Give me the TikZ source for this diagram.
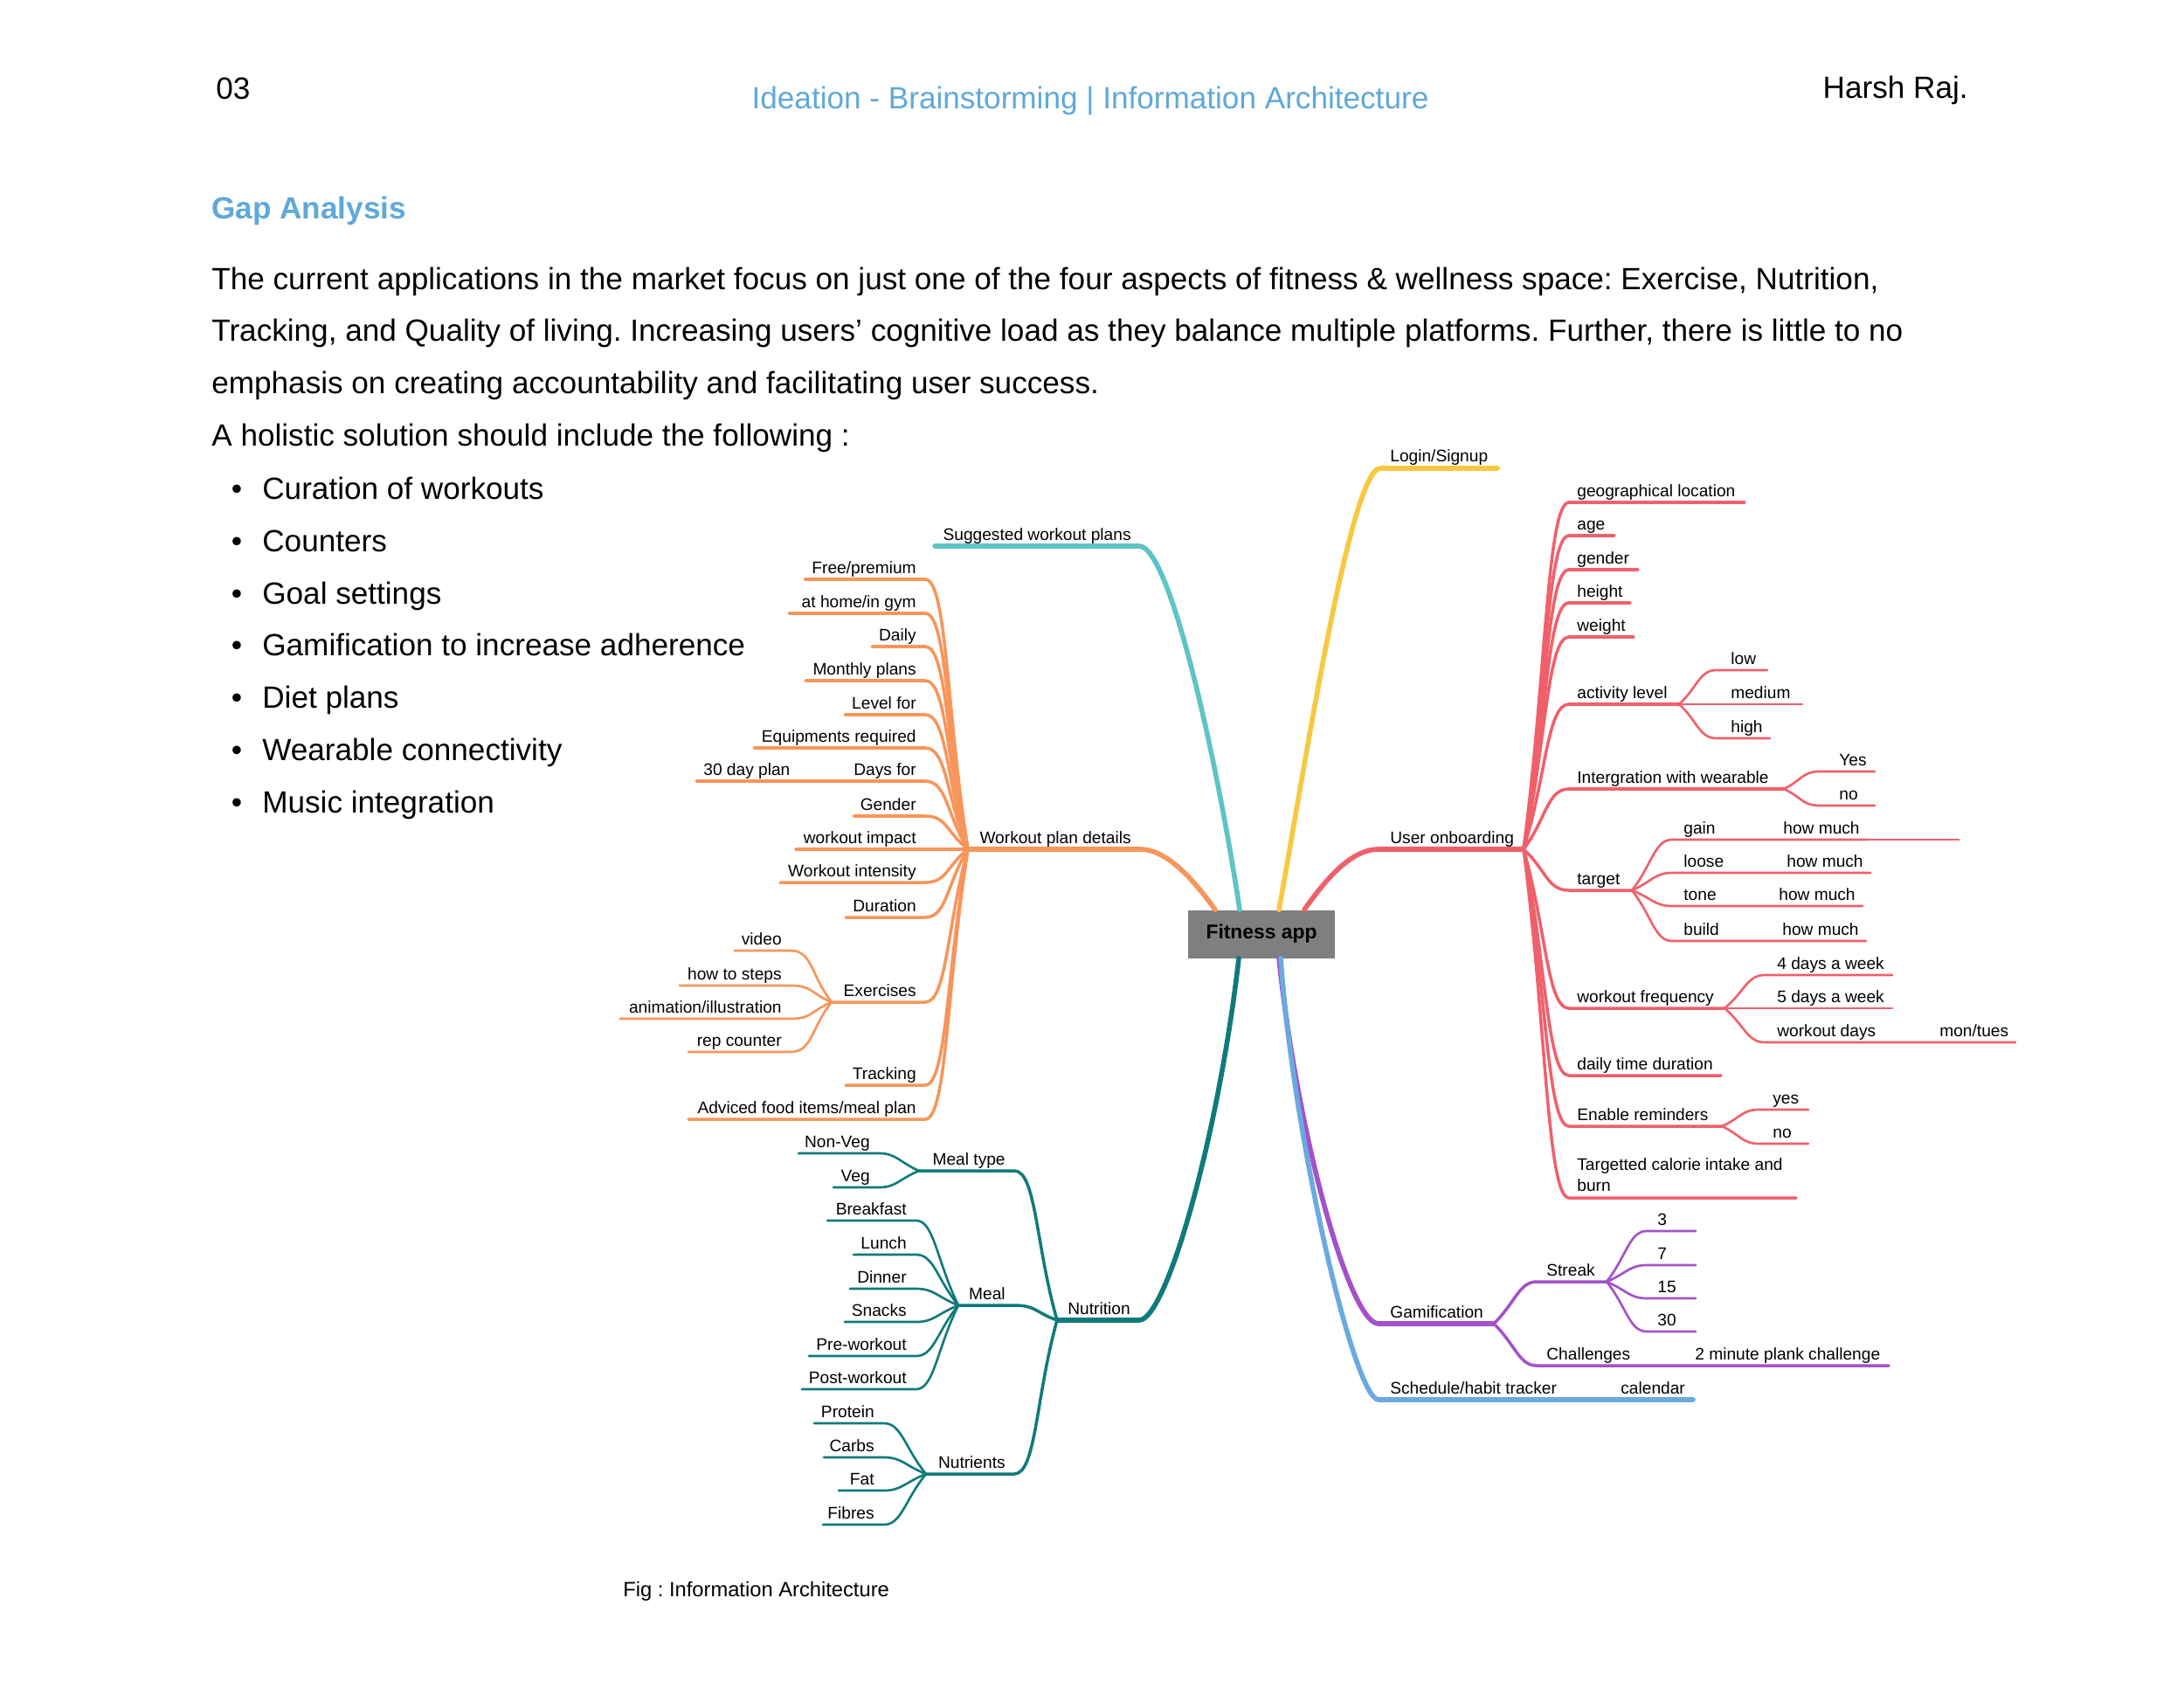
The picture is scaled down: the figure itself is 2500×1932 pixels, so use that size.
\documentclass[tikz,border=0pt]{standalone}
\usepackage{fontspec}
\setmainfont{Liberation Sans}
\usetikzlibrary{calc}
\definecolor{mmteal}{HTML}{5EC4C6}
\definecolor{mmyellow}{HTML}{F8C840}
\definecolor{mmorange}{HTML}{F7955A}
\definecolor{mmred}{HTML}{F0606B}
\definecolor{mmdark}{HTML}{107A7B}
\definecolor{mmpurple}{HTML}{A352C9}
\definecolor{mmblue}{HTML}{6AAAE0}
\definecolor{hdblue}{HTML}{5FA8DA}
\definecolor{boxgray}{HTML}{7F7F7F}
\frenchspacing

\begin{document}
\begin{tikzpicture}[x=0.02cm, y=-0.02cm,
    lbl/.style={font=\fontsize{10.9}{13.7}\selectfont, inner sep=0pt},
    lr/.style={lbl, anchor=base east},
    ll/.style={lbl, anchor=base west},
    para/.style={font=\fontsize{20}{24}\selectfont, anchor=base west, inner sep=0pt},
    appbox/.style={rectangle, fill=boxgray, minimum width=3.36cm, minimum height=1.1cm, inner sep=0pt, font=\bfseries\fontsize{13}{15}\selectfont},
    brmain/.style={line width=3.2pt, line cap=round},
    brsub/.style={line width=2pt, line cap=round},
    brleaf/.style={line width=1.5pt, line cap=round}
  ]
  \fill[white] (0,0) rectangle (2500,1932);
  \useasboundingbox (0,0) rectangle (2500,1932);

  % Page header
  \node[para] (pgno) at (247,114) {03};
  \node[para, anchor=base, text=hdblue] (ttl) at (1248,125) {Ideation - Brainstorming | Information Architecture};
  \node[para, anchor=base east] (auth) at (2253,113) {Harsh Raj.};
  \node[para, text=hdblue, font=\bfseries\fontsize{20}{24}\selectfont] (gap) at (242,251) {Gap Analysis};

  % Text
  \node[para] (p1) at (242,332) {The current applications in the market focus on just one of the four aspects of fitness \& wellness space: Exercise, Nutrition,};
  \node[para] (p2) at (242,391) {Tracking, and Quality of living. Increasing users' cognitive load as they balance multiple platforms. Further, there is little to no};
  \node[para] (p3) at (242,451) {emphasis on creating accountability and facilitating user success.};
  \node[para] (p4) at (242,511) {A holistic solution should include the following :};
  \foreach \y/\txt [count=\i] in {571/Curation of workouts, 631/Counters, 691/Goal settings,
      750/Gamification to increase adherence, 810/Diet plans, 870/Wearable connectivity, 930/Music integration} {
    \node[para, anchor=base] (bd\i) at (271,\y) {\textbullet};
    \node[para] (bl\i) at (300,\y) {\txt};
  }

  % Centre
  \node[appbox] (app) at (1444,1069) {Fitness app};
  \coordinate (app-o) at ($(app.north)+(-53,0)$);
  \coordinate (app-t) at ($(app.north)+(-25,0)$);
  \coordinate (app-y) at ($(app.north)+(20,0)$);
  \coordinate (app-r) at ($(app.north)+(49,0)$);
  \coordinate (app-d) at ($(app.south)+(-26,0)$);
  \coordinate (app-p) at ($(app.south)+(20,0)$);
  \coordinate (app-b) at ($(app.south)+(22,0)$);

  % Suggested workout plans
  \coordinate (sw-a) at (1304,625);
  \coordinate (sw-b) at (1070,625);
  \node[lr] (sw) at (1295,618) {Suggested workout plans};
  \draw[brmain, mmteal] (app-t) .. controls +(-24,-161) and +(36,0) .. (sw-a) -- (sw-b);

  % Login/Signup
  \coordinate (ls-a) at (1580,536);
  \coordinate (ls-b) at (1714,536);
  \node[ll] (ls) at (1591,529) {Login/Signup};
  \draw[brmain, mmyellow] (app-y) .. controls +(26,-141) and +(-35,0) .. (ls-a) -- (ls-b);

  % Workout plan details
  \coordinate (wpd-a) at (1305,972);
  \coordinate (wpd-b) at (1108,972);
  \node[lr] (wpd) at (1295,965) {Workout plan details};
  \draw[brmain, mmorange] (app-o) .. controls +(-26,-36) and +(30,0) .. (wpd-a) -- (wpd-b);
  \foreach \y/\xa/\txt [count=\i] in {663/921/{Free/premium}, 702/903/{at home/in gym}, 740/998/Daily,
      779/922/Monthly plans, 818/967/Level for, 856/863/Equipments required, 894/797/Days for,
      934/977/Gender, 972/911/workout impact, 1010/893/Workout intensity, 1050/968/Duration,
      1147/952/Exercises, 1242/968/Tracking, 1281/788/{Adviced food items/meal plan}} {
    \coordinate (wp\i-a) at (1059,\y);
    \coordinate (wp\i-b) at (\xa,\y);
    \node[lr] (wp\i) at (1049,\y-7) {\txt};
    \draw[brsub, mmorange] (wp\i-b) -- (wp\i-a) .. controls +(25,0) and ($(wpd-b)!0.5!(wp\i-a)$) .. (wpd-b);
  }
  \node[ll] (dp30) at (805,887) {30 day plan};
  % Exercises
  \foreach \y/\xa/\txt [count=\i] in {1088/841/video, 1128/778/how to steps,
      1166/710/{animation/illustration}, 1204/788/rep counter} {
    \coordinate (ex\i-a) at (905,\y);
    \coordinate (ex\i-b) at (\xa,\y);
    \node[lr] (ex\i) at (895,\y-7) {\txt};
    \draw[brleaf, mmorange] (ex\i-b) -- (ex\i-a) .. controls +(25,0) and ($(wp12-b)!0.5!(ex\i-a)$) .. (wp12-b);
  }

  % User onboarding
  \coordinate (uo-a) at (1578,972);
  \coordinate (uo-b) at (1744,972);
  \node[ll] (uo) at (1591,965) {User onboarding};
  \draw[brmain, mmred] (app-r) .. controls +(22,-31) and +(-33,0) .. (uo-a) -- (uo-b);
  \foreach \y/\xb/\txt/\nm in {575/1997/geographical location/geo, 613/1848/age/age, 652/1875/gender/gen,
      690/1866/height/hgt, 729/1870/weight/wgt, 806/1922/activity level/al,
      903/2042/Intergration with wearable/iw, 1019/1868/target/tg, 1154/1974/workout frequency/wf,
      1231/1970/daily time duration/dt, 1289/1971/Enable reminders/er} {
    \coordinate (\nm-a) at (1796,\y);
    \coordinate (\nm-b) at (\xb,\y);
    \node[ll] (\nm) at (1805,\y-7) {\txt};
    \draw[brsub, mmred] (uo-b) .. controls ($(uo-b)!0.5!(\nm-a)$) and +(-25,0) .. (\nm-a) -- (\nm-b);
  }
  \coordinate (tc-a) at (1796,1371);
  \coordinate (tc-b) at (2056,1371);
  \node[lbl, anchor=south west, align=left] (tc) at (1805,1364) {Targetted calorie intake and\\burn};
  \draw[brsub, mmred] (uo-b) .. controls ($(uo-b)!0.5!(tc-a)$) and +(-25,0) .. (tc-a) -- (tc-b);

  % activity level
  \foreach \y/\xb/\txt [count=\i] in {767/2023/low, 806/2063/medium, 845/2026/high} {
    \coordinate (al\i-a) at (1965,\y);
    \coordinate (al\i-b) at (\xb,\y);
    \node[ll] (al\i) at (1981,\y-7) {\txt};
    \draw[brleaf, mmred] (al-b) .. controls ($(al-b)!0.5!(al\i-a)$) and +(-20,0) .. (al\i-a) -- (al\i-b);
  }
  % wearable
  \foreach \y/\txt [count=\i] in {883/Yes, 922/no} {
    \coordinate (iw\i-a) at (2083,\y);
    \coordinate (iw\i-b) at (2146,\y);
    \node[ll] (iw\i) at (2105,\y-7) {\txt};
    \draw[brleaf, mmred] (iw-b) .. controls ($(iw-b)!0.5!(iw\i-a)$) and +(-20,0) .. (iw\i-a) -- (iw\i-b);
  }
  % target
  \foreach \y/\xb/\txt/\xh [count=\i] in {961/2135/gain/2041, 999/2141/loose/2045,
      1037/2132/tone/2036, 1077/2136/build/2040} {
    \coordinate (tg\i-a) at (1914,\y);
    \coordinate (tg\i-b) at (\xb,\y);
    \node[ll] (tg\i) at (1927,\y-7) {\txt};
    \node[ll] (hm\i) at (\xh,\y-7) {how much};
    \draw[brleaf, mmred] (tg-b) .. controls ($(tg-b)!0.5!(tg\i-a)$) and +(-20,0) .. (tg\i-a) -- (tg\i-b);
  }
  \coordinate (tg1-c) at (2243,961);
  \draw[line width=0.6pt, mmred] (tg1-b) -- (tg1-c);
  % workout frequency
  \foreach \y/\xb/\txt [count=\i] in {1116/2166/4 days a week, 1154/2166/5 days a week, 1193/2307/workout days} {
    \coordinate (wf\i-a) at (2020,\y);
    \coordinate (wf\i-b) at (\xb,\y);
    \node[ll] (wf\i) at (2034,\y-7) {\txt};
    \draw[brleaf, mmred] (wf-b) .. controls ($(wf-b)!0.5!(wf\i-a)$) and +(-20,0) .. (wf\i-a) -- (wf\i-b);
  }
  \node[ll] (mt) at (2220,1186) {mon/tues};
  % reminders
  \foreach \y/\txt [count=\i] in {1270/yes, 1309/no} {
    \coordinate (er\i-a) at (2014,\y);
    \coordinate (er\i-b) at (2070,\y);
    \node[ll] (er\i) at (2029,\y-7) {\txt};
    \draw[brleaf, mmred] (er-b) .. controls ($(er-b)!0.5!(er\i-a)$) and +(-20,0) .. (er\i-a) -- (er\i-b);
  }

  % Nutrition
  \coordinate (nu-a) at (1304,1511);
  \coordinate (nu-b) at (1210,1511);
  \node[lr] (nu) at (1294,1504) {Nutrition};
  \draw[brmain, mmdark] (app-d) .. controls +(-23,203) and +(31,0) .. (nu-a) -- (nu-b);
  \foreach \y/\xb/\txt/\nm in {1340/1052/Meal type/mty, 1494/1097/Meal/mel, 1687/1060/Nutrients/nts} {
    \coordinate (\nm-a) at (1161,\y);
    \coordinate (\nm-b) at (\xb,\y);
    \node[lr] (\nm) at (1151,\y-7) {\txt};
    \draw[brsub, mmdark] (\nm-b) -- (\nm-a) .. controls +(25,0) and ($(nu-b)!0.5!(\nm-a)$) .. (nu-b);
  }
  \foreach \y/\xa/\txt [count=\i] in {1320/914/Non-Veg, 1359/954/Veg} {
    \coordinate (mty\i-a) at (1006,\y);
    \coordinate (mty\i-b) at (\xa,\y);
    \node[lr] (mty\i) at (996,\y-7) {\txt};
    \draw[brleaf, mmdark] (mty\i-b) -- (mty\i-a) .. controls +(20,0) and ($(mty-b)!0.5!(mty\i-a)$) .. (mty-b);
  }
  \foreach \y/\xa/\txt [count=\i] in {1397/947/Breakfast, 1436/977/Lunch, 1475/973/Dinner,
      1513/967/Snacks, 1552/926/Pre-workout, 1590/918/Post-workout} {
    \coordinate (mel\i-a) at (1049,\y);
    \coordinate (mel\i-b) at (\xa,\y);
    \node[lr] (mel\i) at (1038,\y-7) {\txt};
    \draw[brleaf, mmdark] (mel\i-b) -- (mel\i-a) .. controls +(20,0) and ($(mel-b)!0.5!(mel\i-a)$) .. (mel-b);
  }
  \foreach \y/\xa/\txt [count=\i] in {1629/932/Protein, 1668/943/Carbs, 1706/960/Fat, 1745/942/Fibres} {
    \coordinate (nts\i-a) at (1012,\y);
    \coordinate (nts\i-b) at (\xa,\y);
    \node[lr] (nts\i) at (1001,\y-7) {\txt};
    \draw[brleaf, mmdark] (nts\i-b) -- (nts\i-a) .. controls +(20,0) and ($(nts-b)!0.5!(nts\i-a)$) .. (nts-b);
  }

  % Gamification
  \coordinate (gm-a) at (1578,1515);
  \coordinate (gm-b) at (1710,1515);
  \node[ll] (gm) at (1591,1508) {Gamification};
  \draw[brmain, mmpurple] (app-p) .. controls +(21,203) and +(-33,0) .. (gm-a) -- (gm-b);
  \coordinate (st-a) at (1759,1467);
  \coordinate (st-b) at (1839,1467);
  \node[ll] (st) at (1770,1460) {Streak};
  \draw[brsub, mmpurple] (gm-b) .. controls ($(gm-b)!0.5!(st-a)$) and +(-20,0) .. (st-a) -- (st-b);
  \foreach \y/\txt [count=\i] in {1409/3, 1448/7, 1486/15, 1524/30} {
    \coordinate (st\i-a) at (1885,\y);
    \coordinate (st\i-b) at (1941,\y);
    \node[ll] (st\i) at (1897,\y-7) {\txt};
    \draw[brleaf, mmpurple] (st-b) .. controls ($(st-b)!0.5!(st\i-a)$) and +(-20,0) .. (st\i-a) -- (st\i-b);
  }
  \coordinate (ch-a) at (1759,1563);
  \coordinate (ch-b) at (1875,1563);
  \coordinate (pk-b) at (2162,1563);
  \node[ll] (ch) at (1770,1556) {Challenges};
  \node[ll] (pk) at (1940,1556) {2 minute plank challenge};
  \draw[brsub, mmpurple] (gm-b) .. controls ($(gm-b)!0.5!(ch-a)$) and +(-20,0) .. (ch-a) -- (ch-b) -- (pk-b);

  % Schedule/habit tracker
  \coordinate (sh-a) at (1578,1602);
  \coordinate (sh-b) at (1793,1602);
  \coordinate (cal-b) at (1938,1602);
  \node[ll] (sh) at (1591,1595) {Schedule/habit tracker};
  \node[ll] (cal) at (1855,1595) {calendar};
  \draw[brmain, mmblue] (app-b) .. controls +(14,203) and +(-28,0) .. (sh-a) -- (sh-b) -- (cal-b);

  % Caption
  \node[para, font=\fontsize{13.5}{16}\selectfont] (cap) at (713,1827) {Fig : Information Architecture};
\end{tikzpicture}
\end{document}
